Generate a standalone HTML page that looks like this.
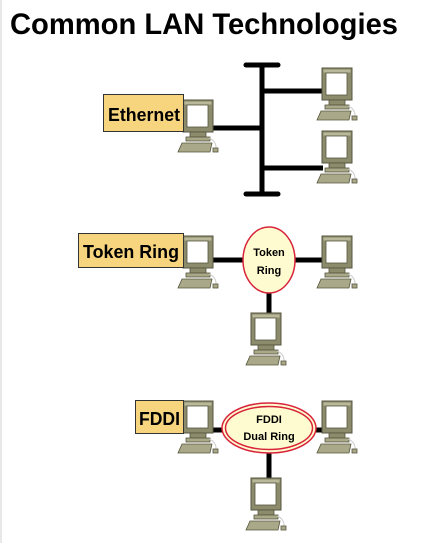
<!DOCTYPE html>
<html><head><meta charset="utf-8"><style>
html,body{margin:0;padding:0;background:#fff;}
svg{display:block;}
text{font-family:"Liberation Sans",sans-serif;font-weight:bold;}
</style></head><body>
<svg width="440" height="543" viewBox="0 0 440 543">
<defs>
<g id="pc">
  <rect x="0" y="0" width="30" height="32" fill="#8c8b6c" stroke="#55553f" stroke-width="1"/>
  <rect x="1.5" y="1.5" width="27" height="3" fill="#b9b89a"/>
  <rect x="4" y="5" width="21" height="22" fill="#fff" stroke="#55553f" stroke-width="0.8"/>
  <rect x="7" y="32" width="16" height="5" fill="#8c8b6c" stroke="#55553f" stroke-width="0.8"/>
  <rect x="3" y="37" width="24" height="4" fill="#a9a888" stroke="#55553f" stroke-width="0.8"/>
  <polygon points="-1,43 29,43 27,52 -5,52" fill="#a9a888" stroke="#55553f" stroke-width="0.8"/>
  <path d="M26,38 q8,3 7,12" fill="none" stroke="#ccc" stroke-width="1"/>
  <rect x="30" y="48" width="5" height="4" fill="#a9a888" stroke="#55553f" stroke-width="0.8"/>
</g>
</defs>
<rect x="0" y="0" width="2" height="543" fill="#e8e8e8"/>
<text x="10" y="34" font-size="30" textLength="388" lengthAdjust="spacingAndGlyphs">Common LAN Technologies</text>

<!-- Ethernet -->
<g stroke="#000" stroke-width="5" stroke-linecap="round">
  <line x1="246" y1="65" x2="278" y2="65"/>
  <line x1="246" y1="194" x2="278" y2="194"/>
  <line x1="262" y1="65" x2="262" y2="194"/>
  <line x1="212" y1="128" x2="262" y2="128" stroke-linecap="butt"/>
  <line x1="262" y1="91" x2="323" y2="91" stroke-linecap="butt"/>
  <line x1="262" y1="168" x2="323" y2="168" stroke-linecap="butt"/>
</g>
<use href="#pc" x="183" y="100"/>
<use href="#pc" x="322" y="68"/>
<use href="#pc" x="322" y="131"/>
<rect x="103.5" y="94.5" width="80" height="37" fill="#f7d57e" stroke="#333" stroke-width="1"/>
<text x="108" y="121" font-size="18" textLength="72" lengthAdjust="spacingAndGlyphs">Ethernet</text>

<!-- Token Ring -->
<g stroke="#000" stroke-width="5">
  <line x1="212" y1="260" x2="325" y2="260"/>
  <line x1="269" y1="290" x2="269" y2="314"/>
</g>
<use href="#pc" x="183" y="236"/>
<use href="#pc" x="322" y="236"/>
<use href="#pc" x="251" y="313"/>
<ellipse cx="269" cy="260" rx="26" ry="33" fill="#fffbd0" stroke="#d8243a" stroke-width="1.5"/>
<text x="269" y="256" font-size="11" text-anchor="middle">Token</text>
<text x="269" y="274" font-size="11" text-anchor="middle">Ring</text>
<rect x="78.5" y="233.5" width="105" height="34" fill="#f7d57e" stroke="#333" stroke-width="1"/>
<text x="83" y="258" font-size="18" textLength="96" lengthAdjust="spacingAndGlyphs">Token Ring</text>

<!-- FDDI -->
<g stroke="#000" stroke-width="5">
  <line x1="212" y1="430" x2="325" y2="430"/>
  <line x1="269" y1="450" x2="269" y2="479"/>
</g>
<use href="#pc" x="183" y="401"/>
<use href="#pc" x="322" y="401"/>
<use href="#pc" x="251" y="478"/>
<ellipse cx="269" cy="428" rx="47" ry="25" fill="#fffbd0" stroke="#d8243a" stroke-width="1.5"/>
<ellipse cx="269" cy="428" rx="43.5" ry="21.5" fill="none" stroke="#d8243a" stroke-width="1.5"/>
<text x="269" y="423" font-size="11" text-anchor="middle">FDDI</text>
<text x="269" y="440" font-size="11" text-anchor="middle">Dual Ring</text>
<rect x="135.5" y="400.5" width="48" height="33" fill="#f7d57e" stroke="#333" stroke-width="1"/>
<text x="139" y="425" font-size="18" textLength="41" lengthAdjust="spacingAndGlyphs">FDDI</text>
</svg>
</body></html>
